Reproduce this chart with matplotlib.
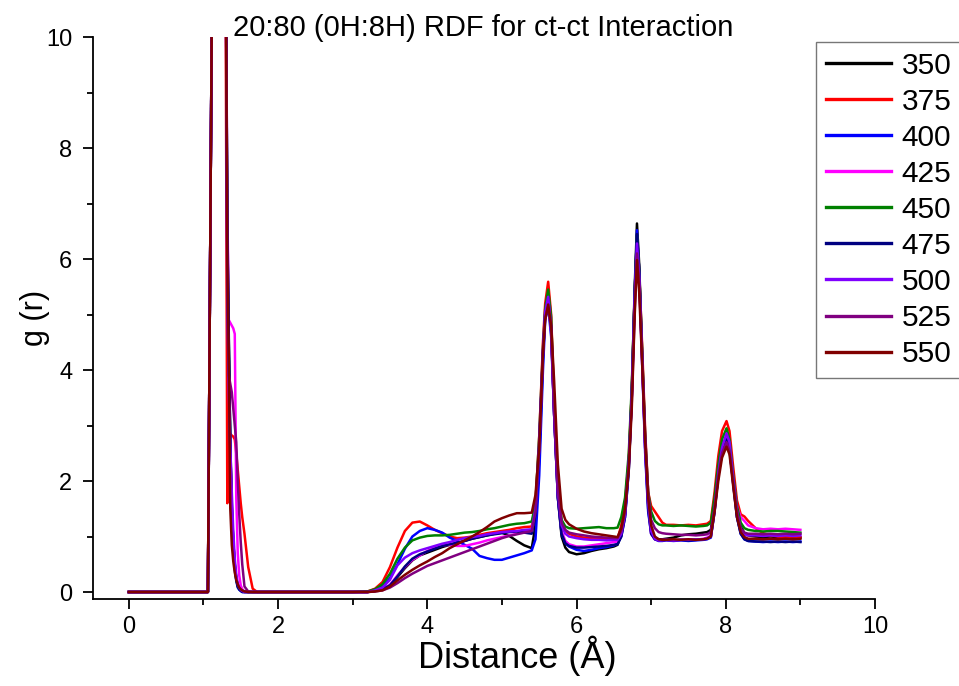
import matplotlib
matplotlib.use("Agg")
import matplotlib.pyplot as plt
from matplotlib.ticker import MultipleLocator

plt.rcParams['font.family'] = ['Liberation Sans', 'DejaVu Sans']

# Distance grid (Å) shared by all temperature series
distance = [
    0.00, 1.06, 1.13, 1.29, 1.32, 1.34, 1.36, 1.38, 1.40, 1.42, 1.44, 1.46, 1.48, 1.50, 1.52, 1.55, 1.60, 1.66, 1.72, 1.80,
    3.00, 3.20, 3.30, 3.40, 3.50, 3.60, 3.70, 3.80, 3.90, 4.00, 4.10, 4.20, 4.30, 4.40, 4.50, 4.60, 4.70, 4.80, 4.90, 5.00,
    5.10, 5.20, 5.30, 5.40,
    5.45, 5.50, 5.55, 5.58, 5.62, 5.66, 5.70, 5.75, 5.80, 5.85, 5.90, 6.00, 6.10, 6.20, 6.30, 6.40, 6.50, 6.55,
    6.60, 6.65, 6.70, 6.74, 6.78, 6.81, 6.84, 6.88, 6.92, 6.96, 7.00, 7.05, 7.10, 7.15, 7.20, 7.30, 7.40, 7.50, 7.60,
    7.70, 7.75,
    7.80, 7.85, 7.90, 7.95, 8.01, 8.05, 8.10, 8.15, 8.20, 8.25, 8.30, 8.40, 8.50, 8.60, 8.70, 8.80, 8.90, 9.00,
]

temperatures = ["350", "375", "400", "425", "450", "475", "500", "525", "550"]
colors = ["#000000", "#ff0000", "#0000ff", "#ff00ff", "#008000", "#000080", "#8000ff", "#800080", "#800000"]

g_350 = [
    0, 0, 14, 14, 6.5, 4.5, 2.6, 1.5, 0.9, 0.5, 0.25, 0.12, 0.06, 0.03, 0.01, 0, 0, 0, 0, 0,
    0, 0, 0.02, 0.05, 0.12, 0.27, 0.43, 0.57, 0.66, 0.71, 0.76, 0.81, 0.85, 0.88, 0.92, 0.96, 0.99, 1.02, 1.05, 1.07,
    1.01, 0.92, 0.84, 0.79,
    1.2, 2.4, 4.2, 5.0, 5.25, 4.7, 3.2, 1.7, 1.0, 0.80, 0.72, 0.68, 0.70, 0.74, 0.77, 0.79, 0.82, 0.85,
    1.05, 1.4, 2.3, 3.6, 5.5, 6.64, 5.9, 4.3, 2.7, 1.6, 1.1, 0.98, 0.95, 0.95, 0.96, 0.98, 1.02, 1.04, 1.05, 1.07, 1.08,
    1.12, 1.6, 2.2, 2.6, 2.8, 2.65, 2.05, 1.5, 1.18, 1.06, 1.02, 1.0, 0.99, 1.0, 0.99, 1.0, 0.99, 0.98,
]
g_375 = [
    0, 0, 14, 14, 1.6, 2.9, 2.85, 2.82, 2.8, 2.75, 2.5, 2.2, 1.9, 1.6, 1.35, 1.05, 0.45, 0.06, 0, 0,
    0, 0.01, 0.06, 0.18, 0.45, 0.80, 1.10, 1.25, 1.27, 1.20, 1.12, 1.06, 1.00, 0.97, 0.98, 1.00, 1.03, 1.06, 1.08, 1.10,
    1.12, 1.15, 1.17, 1.18,
    1.6, 2.8, 4.5, 5.2, 5.59, 5.0, 3.4, 1.9, 1.25, 1.10, 1.05, 1.00, 0.98, 0.97, 0.96, 0.95, 0.95, 0.96,
    1.2, 1.6, 2.4, 3.6, 5.4, 6.4, 5.8, 4.4, 2.9, 1.8, 1.55, 1.45, 1.35, 1.25, 1.21, 1.21, 1.20, 1.21, 1.20, 1.22, 1.23,
    1.28, 1.8, 2.45, 2.9, 3.08, 2.9, 2.25, 1.65, 1.4, 1.36, 1.28, 1.15, 1.06, 1.02, 1.0, 0.99, 1.0, 0.99,
]
g_400 = [
    0, 0, 14, 14, 6.0, 4.2, 2.5, 1.4, 0.8, 0.4, 0.2, 0.08, 0.04, 0.02, 0, 0, 0, 0, 0, 0,
    0, 0, 0.03, 0.10, 0.25, 0.50, 0.78, 1.00, 1.10, 1.15, 1.12, 1.07, 0.98, 0.92, 0.85, 0.78, 0.65, 0.61, 0.58, 0.58,
    0.62, 0.66, 0.70, 0.75,
    0.95, 2.1, 4.0, 4.9, 5.15, 4.6, 3.2, 1.7, 1.05, 0.88, 0.82, 0.76, 0.74, 0.76, 0.79, 0.81, 0.84, 0.87,
    1.0, 1.35, 2.2, 3.5, 5.4, 6.52, 5.8, 4.1, 2.5, 1.45, 1.05, 0.95, 0.92, 0.92, 0.93, 0.92, 0.93, 0.92, 0.93, 0.94, 0.95,
    0.98, 1.45, 2.1, 2.55, 2.8, 2.6, 1.95, 1.35, 1.05, 0.95, 0.92, 0.91, 0.9, 0.91, 0.9, 0.91, 0.9, 0.91,
]
g_425 = [
    0, 0, 14, 14, 7.0, 4.9, 4.85, 4.8, 4.75, 4.65, 1.7, 0.7, 0.3, 0.12, 0.05, 0.01, 0, 0, 0, 0,
    0, 0, 0.02, 0.05, 0.13, 0.30, 0.45, 0.58, 0.66, 0.74, 0.80, 0.84, 0.85, 0.83, 0.83, 0.86, 0.89, 0.93, 0.96, 0.99,
    1.02, 1.05, 1.09, 1.12,
    1.45, 2.6, 4.3, 5.0, 5.2, 4.7, 3.2, 1.75, 1.1, 0.92, 0.86, 0.82, 0.82, 0.84, 0.86, 0.88, 0.90, 0.91,
    1.05, 1.4, 2.3, 3.5, 5.2, 6.2, 5.6, 4.1, 2.6, 1.6, 1.05, 0.95, 0.93, 0.94, 0.94, 0.93, 0.94, 0.95, 0.94, 0.96, 0.98,
    1.02, 1.5, 2.15, 2.6, 2.8, 2.65, 2.05, 1.55, 1.35, 1.28, 1.2, 1.15, 1.13, 1.14, 1.13, 1.14, 1.13, 1.12,
]
g_450 = [
    0, 0, 14, 14, 6.5, 4.4, 2.6, 1.5, 0.9, 0.45, 0.22, 0.1, 0.05, 0.03, 0.02, 0.01, 0, 0, 0, 0,
    0, 0.01, 0.05, 0.14, 0.33, 0.60, 0.80, 0.93, 0.98, 1.01, 1.02, 1.02, 1.03, 1.05, 1.07, 1.08, 1.10, 1.13, 1.15, 1.18,
    1.21, 1.23, 1.24, 1.27,
    1.6, 2.8, 4.4, 5.1, 5.45, 4.95, 3.4, 1.9, 1.3, 1.18, 1.15, 1.14, 1.15, 1.16, 1.17, 1.15, 1.15, 1.16,
    1.35, 1.7, 2.5, 3.7, 5.4, 6.43, 5.8, 4.3, 2.8, 1.8, 1.45, 1.28, 1.22, 1.2, 1.2, 1.19, 1.2, 1.19, 1.18, 1.19, 1.2,
    1.25, 1.7, 2.3, 2.75, 2.95, 2.75, 2.1, 1.55, 1.25, 1.15, 1.12, 1.1, 1.09, 1.1, 1.1, 1.09, 1.08, 1.07,
]
g_475 = [
    0, 0, 14, 14, 6.8, 4.6, 2.7, 1.6, 0.9, 0.5, 0.25, 0.1, 0.05, 0.02, 0, 0, 0, 0, 0, 0,
    0, 0, 0.02, 0.05, 0.12, 0.28, 0.46, 0.60, 0.68, 0.73, 0.78, 0.83, 0.86, 0.89, 0.92, 0.96, 0.99, 1.02, 1.04, 1.06,
    1.08, 1.09, 1.07, 1.05,
    1.4, 2.6, 4.3, 5.0, 5.25, 4.75, 3.2, 1.7, 1.05, 0.88, 0.83, 0.80, 0.80, 0.81, 0.82, 0.83, 0.85, 0.86,
    1.0, 1.35, 2.2, 3.5, 5.4, 6.45, 5.8, 4.2, 2.6, 1.5, 1.05, 0.95, 0.93, 0.93, 0.94, 0.93, 0.94, 0.93, 0.94, 0.95, 0.96,
    1.0, 1.45, 2.1, 2.5, 2.75, 2.58, 1.95, 1.35, 1.05, 0.95, 0.92, 0.91, 0.91, 0.9, 0.91, 0.9, 0.91, 0.9,
]
g_500 = [
    0, 0, 14, 14, 5.5, 3.6, 2.6, 1.8, 1.1, 0.6, 0.3, 0.15, 0.08, 0.04, 0.02, 0, 0, 0, 0, 0,
    0, 0, 0.03, 0.08, 0.22, 0.48, 0.62, 0.70, 0.75, 0.79, 0.83, 0.87, 0.90, 0.94, 0.97, 0.99, 1.01, 1.04, 1.06, 1.08,
    1.09, 1.10, 1.12, 1.13,
    1.5, 2.7, 4.35, 5.05, 5.32, 4.8, 3.3, 1.8, 1.2, 1.05, 1.0, 0.97, 0.95, 0.94, 0.94, 0.93, 0.94, 0.94,
    1.05, 1.4, 2.3, 3.5, 5.3, 6.28, 5.7, 4.2, 2.6, 1.6, 1.1, 0.96, 0.93, 0.93, 0.94, 0.93, 0.94, 0.94, 0.95, 0.95, 0.96,
    1.0, 1.5, 2.15, 2.6, 2.86, 2.7, 2.05, 1.45, 1.12, 1.03, 1.02, 1.02, 1.01, 1.02, 1.01, 1.02, 1.01, 1.02,
]
g_525 = [
    0, 0, 14, 14, 5.0, 3.9, 3.75, 3.6, 3.3, 3.0, 2.7, 2.0, 1.4, 0.9, 0.5, 0.1, 0.01, 0, 0, 0,
    0, 0, 0.01, 0.03, 0.08, 0.16, 0.25, 0.33, 0.40, 0.47, 0.52, 0.57, 0.62, 0.67, 0.72, 0.77, 0.82, 0.87, 0.92, 0.97,
    1.01, 1.04, 1.07, 1.10,
    1.45, 2.6, 4.3, 4.95, 5.15, 4.75, 3.3, 1.85, 1.25, 1.12, 1.07, 1.04, 1.02, 1.00, 0.99, 0.98, 0.97, 0.97,
    1.1, 1.45, 2.3, 3.4, 5.1, 6.1, 5.6, 4.2, 2.8, 1.8, 1.3, 1.15, 1.08, 1.06, 1.05, 1.04, 1.03, 1.03, 1.02, 1.03, 1.04,
    1.08, 1.5, 2.1, 2.5, 2.7, 2.55, 2.0, 1.45, 1.15, 1.07, 1.05, 1.05, 1.04, 1.05, 1.04, 1.05, 1.04, 1.05,
]
g_550 = [
    0, 0, 14, 14, 6.0, 4.2, 1.5, 0.85, 0.55, 0.35, 0.22, 0.14, 0.08, 0.05, 0.03, 0.01, 0, 0, 0, 0,
    0, 0, 0.01, 0.03, 0.10, 0.21, 0.31, 0.40, 0.48, 0.55, 0.63, 0.70, 0.79, 0.86, 0.93, 1.00, 1.08, 1.17, 1.27, 1.33,
    1.38, 1.42, 1.42, 1.43,
    1.75, 2.6, 4.3, 4.9, 5.18, 4.8, 3.8, 2.3, 1.5, 1.3, 1.22, 1.14, 1.09, 1.06, 1.04, 1.02, 1.0, 0.99,
    1.15, 1.5, 2.2, 3.3, 5.0, 5.98, 5.4, 4.1, 2.7, 1.7, 1.2, 1.0, 0.95, 0.94, 0.94, 0.95, 0.94, 0.95, 0.94, 0.95, 0.96,
    1.0, 1.45, 2.0, 2.42, 2.62, 2.48, 1.9, 1.35, 1.08, 0.99, 0.96, 0.96, 0.95, 0.96, 0.95, 0.96, 0.95, 0.96,
]

series = [g_350, g_375, g_400, g_425, g_450, g_475, g_500, g_525, g_550]

W, H = 959, 686
fig = plt.figure(figsize=(W / 100, H / 100), dpi=100)
ax = fig.add_axes([93 / W, 1 - 599 / H, (875 - 93) / W, (599 - 37) / H])

for label, color, g in zip(temperatures, colors, series):
    ax.plot(distance, g, color=color, lw=1.8, label=label, solid_joinstyle='round')

ax.set_xlim(-0.48, 10)
ax.set_ylim(-0.126, 10)
ax.xaxis.set_major_locator(MultipleLocator(2))
ax.xaxis.set_minor_locator(MultipleLocator(1))
ax.yaxis.set_major_locator(MultipleLocator(2))
ax.yaxis.set_minor_locator(MultipleLocator(1))
ax.tick_params(which='major', direction='out', length=7, width=1.3, labelsize=17)
ax.tick_params(axis='y', which='major', pad=8)
ax.tick_params(axis='x', which='major', pad=5)
ax.tick_params(which='minor', direction='out', length=4, width=1.3)
for side in ('top', 'right'):
    ax.spines[side].set_visible(False)
for side in ('left', 'bottom'):
    ax.spines[side].set_linewidth(1.3)

fig.text(483.5 / W, 1 - 28 / H, "20:80 (0H:8H) RDF for ct-ct Interaction",
         ha='center', va='center', fontsize=21)
fig.text(517 / W, 1 - 656 / H, "Distance (Å)", ha='center', va='center', fontsize=26)
fig.text(35 / W, 1 - 318 / H, "g (r)", ha='center', va='center', rotation=90, fontsize=22)

leg = fig.legend(loc='upper left', bbox_to_anchor=(816 / W, 1 - 42 / H),
                 bbox_transform=fig.transFigure, fontsize=21.5, frameon=True,
                 fancybox=False, borderaxespad=0, borderpad=0.32,
                 handlelength=2.2, handletextpad=0.35, labelspacing=0.27)
leg.get_frame().set_edgecolor('#555555')
leg.get_frame().set_linewidth(1.0)
for line in leg.get_lines():
    line.set_linewidth(2.4)

fig.savefig("out.png", dpi=100)
